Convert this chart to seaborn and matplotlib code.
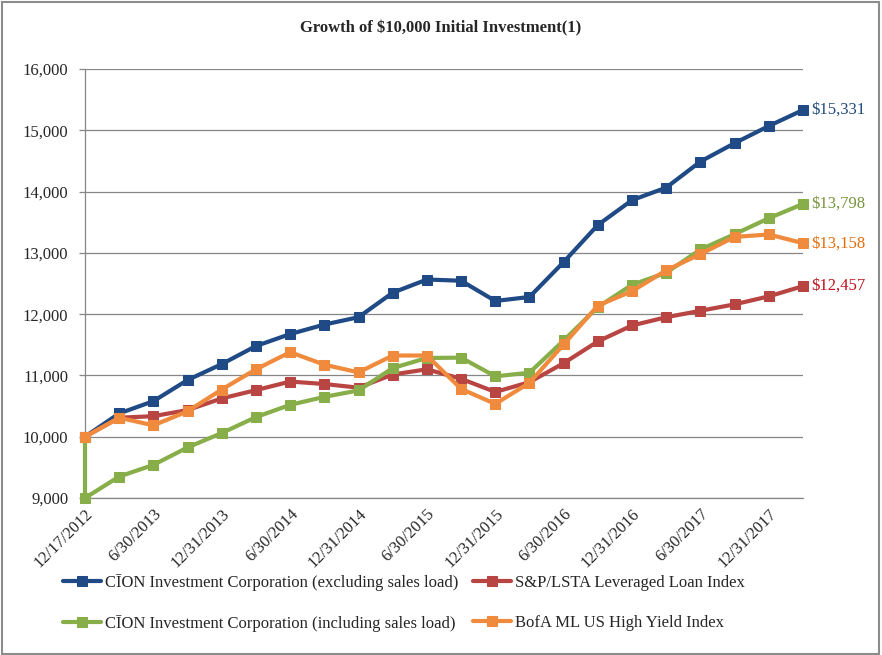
import matplotlib
matplotlib.use("Agg")
import matplotlib.pyplot as plt
import matplotlib.ticker as mticker
from matplotlib.patches import Rectangle
import seaborn as sns

sns.set_style("white")
plt.rcParams['font.family'] = ['Liberation Serif', 'DejaVu Serif']

# quarter ends, first point is the inception date
dates = ['12/17/2012', '3/31/2013', '6/30/2013', '9/30/2013', '12/31/2013',
         '3/31/2014', '6/30/2014', '9/30/2014', '12/31/2014', '3/31/2015',
         '6/30/2015', '9/30/2015', '12/31/2015', '3/31/2016', '6/30/2016',
         '9/30/2016', '12/31/2016', '3/31/2017', '6/30/2017', '9/30/2017',
         '12/31/2017', '3/31/2018']

cion_excl = [10000, 10380, 10580, 10925, 11185, 11480, 11675, 11830, 11950,
             12350, 12565, 12545, 12215, 12280, 12850, 13455, 13860, 14065,
             14490, 14790, 15070, 15331]
lsta = [10000, 10310, 10335, 10435, 10625, 10760, 10900, 10860, 10800,
        11015, 11100, 10945, 10730, 10890, 11200, 11555, 11815, 11950,
        12055, 12160, 12290, 12457]
cion_incl = [10000, 9000, 9350, 9540, 9825, 10060, 10320, 10520, 10650, 10755,
             11120, 11285, 11290, 10985, 11045, 11570, 12115, 12480, 12675,
             13055, 13305, 13565, 13798]
bofa = [10000, 10310, 10185, 10415, 10770, 11100, 11380, 11175, 11050,
        11325, 11325, 10780, 10535, 10880, 11505, 12140, 12375, 12715,
        12980, 13260, 13300, 13158]

names = ['CĪON Investment Corporation (excluding sales load)',
         'S&P/LSTA Leveraged Loan Index',
         'CĪON Investment Corporation (including sales load)',
         'BofA ML US High Yield Index']
end_labels = ['\\$15,331', '\\$12,457', '\\$13,798', '\\$13,158']
line_colors = ['#1F4A86', '#B94543', '#87AE48', '#F08A3C']
text_colors = ['#1F497D', '#C0101A', '#77933C', '#E46C0A']

xs = list(range(len(dates)))
# sales load: the green line drops from 10,000 to 9,000 on day one
xs_incl = [0] + xs

fig = plt.figure(figsize=(8.82, 6.55), dpi=100)
ax = fig.add_axes([85 / 882, 1 - 498 / 655, (803 - 85) / 882, (498 - 69) / 655])

series = [(xs, cion_excl), (xs, lsta), (xs_incl, cion_incl), (xs, bofa)]
for (x, y), name, c in zip(series, names, line_colors):
    sns.lineplot(x=x, y=y, ax=ax, sort=False, estimator=None, color=c,
                 linewidth=3, marker='s', markersize=6.5,
                 markeredgecolor=c, markerfacecolor=c, label=name,
                 clip_on=False, zorder=3)

# value labels at the right end
for (x, y), lab, c in zip(series, end_labels, text_colors):
    ax.annotate(lab, xy=(x[-1], y[-1]), xytext=(6, 0), textcoords='offset points',
                va='center', ha='left', color=c, fontsize=12,
                annotation_clip=False)

ax.set_xlim(0, len(dates) - 1)
ax.set_ylim(9000, 16000)
ax.yaxis.set_major_locator(mticker.MultipleLocator(1000))
ax.yaxis.set_major_formatter(mticker.StrMethodFormatter('{x:,.0f}'))
ax.set_xticks(xs[::2])
ax.set_xticklabels(dates[::2], rotation=45, ha='right', rotation_mode='anchor')
ax.grid(axis='y', color='#868686', linewidth=0.9)
ax.grid(axis='x', visible=False)
for s in ['top', 'right']:
    ax.spines[s].set_visible(False)
for s in ['left', 'bottom']:
    ax.spines[s].set_color('#868686')
    ax.spines[s].set_linewidth(0.9)
ax.tick_params(axis='y', length=4, width=0.9, color='#868686', pad=8,
               labelsize=12, left=True)
ax.tick_params(axis='x', length=0, pad=6, labelsize=12)
ax.set_xlabel('')
ax.set_ylabel('')

fig.text(0.5, 1 - 28 / 655, 'Growth of \\$10,000 Initial Investment(1)',
         ha='center', va='center', fontsize=12, fontweight='bold')

handles, labels = ax.get_legend_handles_labels()
ax.get_legend().remove()
order = [0, 2, 1, 3]
fig.legend([handles[i] for i in order], [labels[i] for i in order],
           loc='upper left', bbox_to_anchor=(48 / 882, 1 - 559 / 655),
           ncol=2, frameon=False, fontsize=12, handlelength=2.3,
           handletextpad=0.2, columnspacing=0.9, labelspacing=1.45)

fig.add_artist(Rectangle((0.002, 0.002), 0.995, 0.995, transform=fig.transFigure,
                         fill=False, edgecolor='#8c8c8c', linewidth=1.5))

fig.savefig('out.png', dpi=100)
